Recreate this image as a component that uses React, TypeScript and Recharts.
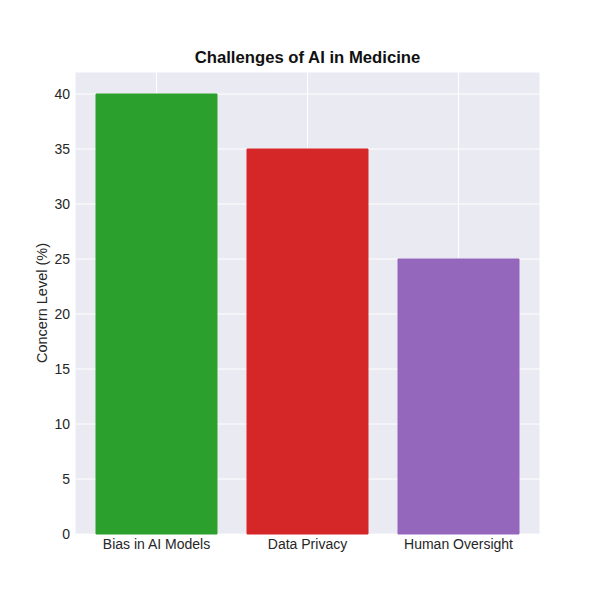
import { BarChart, Bar, XAxis, YAxis, CartesianGrid, Cell } from 'recharts'

const categories = ['Bias in AI Models', 'Data Privacy', 'Human Oversight']
const concern = [40, 35, 25]
const barColors = ['#2ca02c', '#d62728', '#9467bd']
const yTicks = [0, 5, 10, 15, 20, 25, 30, 35, 40]

const data = categories.map((name, i) => ({ name, value: concern[i] }))

const font = '"Liberation Sans", Arial, sans-serif'

export default function App() {
  return (
    <div style={{ position: 'absolute', left: 0, top: 0, width: 600, height: 600, background: '#fff', fontFamily: font }}>
      <div style={{ position: 'absolute', top: 48, left: 75, width: 465, textAlign: 'center', fontSize: 16.7, fontWeight: 'bold', color: '#111' }}>
        Challenges of AI in Medicine
      </div>
      <BarChart
        width={600}
        height={600}
        data={data}
        margin={{ top: 72, right: 60, bottom: 36, left: 0 }}
        barCategoryGap={15}
      >
        <CartesianGrid fill="#eaeaf2" stroke="#ffffff" strokeWidth={1} />
        <XAxis
          dataKey="name"
          padding={{ left: 6, right: 6 }}
          axisLine={false}
          tickLine={false}
          tickSize={0}
          tickMargin={5}
          height={30}
          tick={{ fontSize: 14, fill: '#262626', fontFamily: font }}
        />
        <YAxis
          domain={[0, 42]}
          ticks={yTicks}
          axisLine={false}
          tickLine={false}
          tickSize={0}
          tickMargin={5}
          width={75}
          tick={{ fontSize: 14, fill: '#262626', fontFamily: font }}
          label={{ value: 'Concern Level (%)', angle: -90, position: 'insideLeft', offset: 42, style: { fontSize: 14.5, fill: '#262626', fontFamily: font, textAnchor: 'middle' } }}
        />
        <Bar dataKey="value" isAnimationActive={false}>
          {data.map((d, i) => (
            <Cell key={d.name} fill={barColors[i]} stroke={barColors[i]} />
          ))}
        </Bar>
      </BarChart>
    </div>
  )
}
